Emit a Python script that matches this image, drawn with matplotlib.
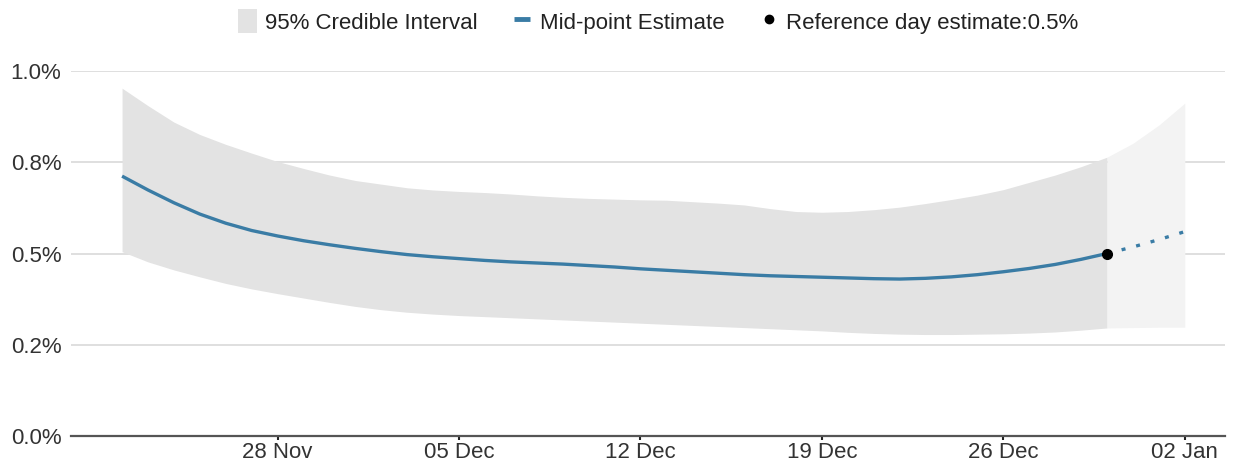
import numpy as np
import pandas as pd
import matplotlib
matplotlib.use("Agg")
import matplotlib.pyplot as plt
import matplotlib.dates as mdates
from matplotlib.patches import Patch
from matplotlib.lines import Line2D

plt.rcParams['font.family'] = ['Liberation Sans', 'DejaVu Sans']

# daily estimates (%), 22 Nov -> 30 Dec (reference day)
dates = pd.date_range('2021-11-22', '2021-12-30', freq='D')
mid = [0.712, 0.674, 0.639, 0.608, 0.583, 0.563, 0.548, 0.535, 0.524, 0.514,
       0.505, 0.497, 0.491, 0.486, 0.481, 0.477, 0.474, 0.471, 0.467, 0.463,
       0.458, 0.454, 0.450, 0.446, 0.442, 0.439, 0.437, 0.435, 0.433, 0.431,
       0.430, 0.432, 0.436, 0.442, 0.450, 0.459, 0.470, 0.484, 0.500]
upper = [0.953, 0.905, 0.860, 0.826, 0.799, 0.775, 0.752, 0.733, 0.715, 0.700,
         0.690, 0.680, 0.674, 0.670, 0.667, 0.663, 0.658, 0.654, 0.651, 0.649,
         0.647, 0.646, 0.642, 0.638, 0.633, 0.623, 0.615, 0.613, 0.615, 0.620,
         0.627, 0.637, 0.648, 0.660, 0.675, 0.695, 0.715, 0.738, 0.764]
lower = [0.505, 0.477, 0.455, 0.436, 0.418, 0.403, 0.390, 0.378, 0.366, 0.355,
         0.346, 0.339, 0.334, 0.330, 0.327, 0.324, 0.321, 0.318, 0.315, 0.312,
         0.309, 0.306, 0.303, 0.300, 0.297, 0.294, 0.291, 0.288, 0.284, 0.281,
         0.279, 0.278, 0.278, 0.279, 0.280, 0.282, 0.285, 0.290, 0.296]

# projection 30 Dec -> 02 Jan
proj_dates = pd.date_range('2021-12-30', '2022-01-02', freq='D')
proj_mid = [0.500, 0.518, 0.538, 0.560]
proj_upper = [0.764, 0.802, 0.852, 0.912]
proj_lower = [0.296, 0.297, 0.298, 0.298]

ref_date = pd.Timestamp('2021-12-30')
ref_value = 0.500

tick_dates = pd.to_datetime(['2021-11-28', '2021-12-05', '2021-12-12',
                             '2021-12-19', '2021-12-26', '2022-01-02'])
y_ticks = [0, 0.25, 0.5, 0.75, 1.0]

blue = '#3a7ca5'

fig = plt.figure(figsize=(12.37, 4.62), dpi=100)
ax = fig.add_axes([71/1237, 1 - 436/462, (1225 - 71)/1237, (436 - 71)/462])

ax.fill_between(dates, lower, upper, color='#e3e3e3', linewidth=0, zorder=1)
ax.fill_between(proj_dates, proj_lower, proj_upper, color='#f3f3f3', linewidth=0, zorder=1)
ax.plot(dates, mid, color=blue, linewidth=2.4, zorder=3, solid_capstyle='butt')
ax.plot(proj_dates, proj_mid, color=blue, linewidth=2.4,
        linestyle=(0, (1.2, 3.3)), zorder=3)
ax.plot([ref_date], [ref_value], 'o', color='black', markersize=7, zorder=4)

ax.set_ylim(0, 1.0)
ax.set_yticks(y_ticks)
ax.set_yticklabels([f'{v:.1f}%' for v in y_ticks])
ax.set_xlim(mdates.date2num(pd.Timestamp('2021-11-22')) - 1.97,
            mdates.date2num(pd.Timestamp('2021-11-22')) + 42.55)
ax.set_xticks(tick_dates)
ax.xaxis.set_major_formatter(mdates.DateFormatter('%d %b'))

ax.grid(axis='y', color='#d9d9d9', linewidth=1.2, zorder=0)
ax.set_axisbelow(True)
for s in ['top', 'right', 'left']:
    ax.spines[s].set_visible(False)
ax.spines['bottom'].set_color('#555555')
ax.spines['bottom'].set_linewidth(1.6)
ax.spines['bottom'].set_zorder(5)
ax.tick_params(axis='y', length=0, labelsize=16, colors='#333333', pad=7)
ax.tick_params(axis='x', length=3, width=1.5, color='#222222', labelsize=16,
               labelcolor='#333333', pad=1)

handles = [Patch(facecolor='#e3e3e3', edgecolor='none'),
           Line2D([], [], marker='_', color=blue, linestyle='none',
                  markersize=11, markeredgewidth=3.5),
           Line2D([], [], marker='o', color='black', linestyle='none', markersize=6)]
labels = ['95% Credible Interval', 'Mid-point Estimate', 'Reference day estimate:0.5%']
fig.legend(handles, labels, loc='upper left', bbox_to_anchor=(227/1237, 1 + 2/462), ncol=3,
           frameon=False, fontsize=16, borderpad=0, handlelength=0.85, handleheight=1.3,
           handletextpad=0.35, columnspacing=1.6, labelcolor='#222222')

fig.savefig('out.png', dpi=100)
